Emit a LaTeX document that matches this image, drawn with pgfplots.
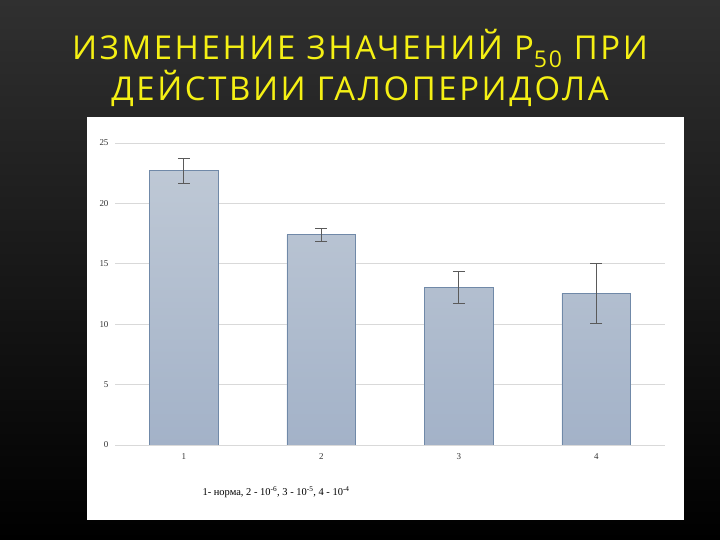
\documentclass[border=0pt]{standalone}
\usepackage{fontspec}
\setmainfont{Liberation Serif}
\newfontfamily\titlefont[LetterSpace=8]{Open Sans}
\usepackage{pgfplots}
\pgfplotsset{compat=1.18}

\definecolor{titleyellow}{RGB}{245,240,20}
\definecolor{bgtop}{RGB}{48,48,48}
\definecolor{bartop}{RGB}{190,200,213}
\definecolor{barbot}{RGB}{163,178,200}
\definecolor{barborder}{RGB}{112,137,168}
\definecolor{gridgray}{RGB}{217,217,217}
\definecolor{errgray}{RGB}{90,90,90}

\begin{document}
\begin{tikzpicture}
\shade[top color=bgtop, bottom color=black] (0bp,0bp) rectangle (720bp,540bp);
\useasboundingbox (0bp,0bp) rectangle (720bp,540bp);
\fill[white] (87bp,20bp) rectangle (684bp,423bp);
\node[text=titleyellow, font=\titlefont\fontsize{33}{41}\selectfont, align=center]
  at (360bp,472bp) {ИЗМЕНЕНИЕ ЗНАЧЕНИЙ P\textsubscript{50} ПРИ\\ДЕЙСТВИИ ГАЛОПЕРИДОЛА};

\begin{axis}[
  at={(115bp,95bp)}, anchor=south west,
  scale only axis, width=550bp, height=302bp,
  xmin=0.5, xmax=4.5, ymin=0, ymax=25,
  xtick={1,2,3,4}, ytick={0,5,...,25},
  ymajorgrids, grid style={draw=gridgray, line width=0.8pt},
  axis line style={draw=none}, major tick length=0pt,
  tick label style={font=\fontsize{9}{10}\selectfont, text=black!80},
  xticklabel style={yshift=-5bp},
  yticklabel style={xshift=-3bp},
  /pgf/number format/assume math mode=true,
  ybar, bar width=0.5,
]
\addplot[draw=barborder, line width=0.7pt, top color=bartop, bottom color=barbot,
  error bars/.cd, y dir=both, y explicit,
  error bar style={color=errgray, line width=0.6pt},
  error mark options={color=errgray, mark size=6bp, line width=0.6pt, rotate=90}]
  coordinates {(1,22.7) +- (0,1.05) (2,17.4) +- (0,0.55) (3,13.05) +- (0,1.29) (4,12.56) +- (0,2.47)};
\end{axis}

\node[font=\fontsize{10.5}{12}\selectfont, anchor=west] at (199bp,48bp)
  {1- норма, 2 - 10\textsuperscript{-6}, 3 - 10\textsuperscript{-5}, 4 - 10\textsuperscript{-4}};
\end{tikzpicture}
\end{document}
